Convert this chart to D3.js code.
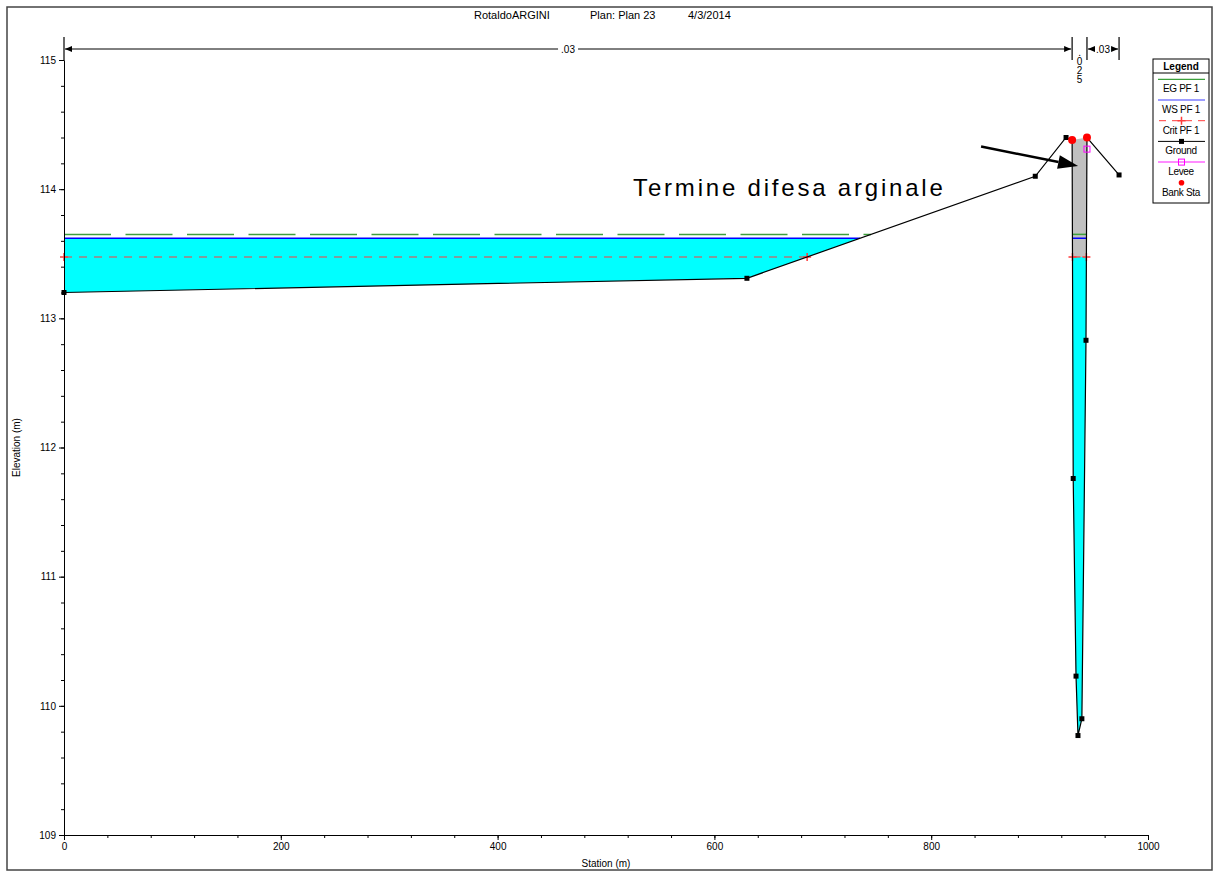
<!DOCTYPE html>
<head>
    <meta charset="utf-8">
    <title>RotaldoARGINI cross section</title>
    <style>
        body { margin: 0; background: #fff; }
        svg text { font-family: "Liberation Sans", Arial, sans-serif; }
    </style>
</head>
<body>

<script src="https://cdn.jsdelivr.net/npm/d3@7"></script>

<script>

    // cross section ground
    var groundSta  = [0, 630, 896, 924.4, 930, 931, 933.6, 935.4, 939, 942.8, 943.7, 973.3];
    var groundElev = [113.20, 113.31, 114.10, 114.40, 114.38, 111.76, 110.23, 109.77, 109.90, 112.83, 114.40, 114.11];

    // profile results
    var egElev = 113.65, wsElev = 113.62, critElev = 113.475;

    var bankSta  = [930, 943.7];
    var bankElev = [114.38, 114.40];
    var leveeSta  = [943.7];
    var leveeElev = [114.31];

    // manning's n
    var nSta = [0, 930, 943.7, 973.3];
    var nVal = [".03", ".025", ".03"];

    var xTicks = [0, 200, 400, 600, 800, 1000];
    var yTicks = [109, 110, 111, 112, 113, 114, 115];

    var legendNames = ["EG PF 1", "WS PF 1", "Crit PF 1", "Ground", "Levee", "Bank Sta"];

    var W = 1219, H = 876;
    var margin = {top: 60, right: 71, bottom: 41, left: 64};

    var x = d3.scaleLinear().domain([0, 1000]).range([margin.left, W - margin.right]);
    var y = d3.scaleLinear().domain([109, 115]).range([H - margin.bottom, margin.top]);

    var svg = d3.select('body').append('svg')
        .attr('width', W)
        .attr('height', H);

    svg.append('rect')
        .attr('x', 7).attr('y', 7)
        .attr('width', W - 14).attr('height', H - 13)
        .attr('fill', 'none').attr('stroke', '#444').attr('stroke-width', 1.5);

    // title
    var title = svg.append('g').attr('font-size', '11px');
    title.append('text').attr('x', 474).attr('y', 19).text('RotaldoARGINI');
    title.append('text').attr('x', 590).attr('y', 19).text('Plan: Plan 23');
    title.append('text').attr('x', 688).attr('y', 19).text('4/3/2014');

    var ground = groundSta.map(function(s, i) { return [s, groundElev[i]]; });

    function groundAt(s) {
        for (var i = 0; i < ground.length - 1; i++) {
            var a = ground[i], b = ground[i + 1];
            if (s >= a[0] && s <= b[0]) return a[1] + (b[1] - a[1]) * (s - a[0]) / (b[0] - a[0]);
        }
        return ground[ground.length - 1][1];
    }

    // stretches where ground is below a level
    function wetParts(level) {
        var parts = [], start = ground[0][1] < level ? ground[0][0] : null;
        for (var i = 0; i < ground.length - 1; i++) {
            var a = ground[i], b = ground[i + 1];
            if ((a[1] - level) * (b[1] - level) < 0) {
                var s = a[0] + (level - a[1]) * (b[0] - a[0]) / (b[1] - a[1]);
                if (start === null) start = s;
                else { parts.push([start, s]); start = null; }
            }
        }
        if (start !== null) parts.push([start, ground[ground.length - 1][0]]);
        return parts;
    }

    var line = d3.line().x(function(d) { return x(d[0]); }).y(function(d) { return y(d[1]); });

    // water fill
    wetParts(wsElev).forEach(function(p) {
        var pts = [[p[0], wsElev], [p[1], wsElev], [p[1], groundAt(p[1])]];
        ground.filter(function(g) { return g[0] > p[0] && g[0] < p[1]; })
            .reverse().forEach(function(g) { pts.push(g); });
        pts.push([p[0], groundAt(p[0])]);
        svg.append('path').attr('d', line(pts) + 'Z').attr('fill', '#00ffff');
    });

    // blocked area above crit in channel
    svg.append('path')
        .attr('d', line([[bankSta[0], bankElev[0]], [bankSta[1], bankElev[1]],
                         [bankSta[1], critElev], [bankSta[0], critElev]]) + 'Z')
        .attr('fill', '#c0c0c0');

    // EG
    wetParts(egElev).forEach(function(p) {
        svg.append('path').attr('d', line([[p[0], egElev], [p[1], egElev]]))
            .attr('stroke', '#3ca03c').attr('stroke-width', 1.5)
            .attr('stroke-dasharray', p[1] - p[0] > 50 ? '47,14.5' : null);
    });

    // WS
    wetParts(wsElev).forEach(function(p) {
        svg.append('path').attr('d', line([[p[0], wsElev], [p[1], wsElev]]))
            .attr('stroke', '#0000ff').attr('stroke-width', 1.5);
    });

    // Crit
    function plus(g, px, py, c) {
        g.append('path')
            .attr('d', 'M' + (px - 4) + ',' + py + 'H' + (px + 4) + 'M' + px + ',' + (py - 4) + 'V' + (py + 4))
            .attr('stroke', c).attr('stroke-width', 1.5);
    }
    wetParts(critElev).forEach(function(p) {
        svg.append('path').attr('d', line([[p[0], critElev], [p[1], critElev]]))
            .attr('stroke', '#ff3c3c').attr('stroke-width', 1.2)
            .attr('stroke-dasharray', '8,7');
        plus(svg, x(p[0]), y(critElev), '#ff3c3c');
        plus(svg, x(p[1]), y(critElev), '#ff3c3c');
    });

    // ground
    svg.append('path').attr('d', line(ground))
        .attr('fill', 'none').attr('stroke', '#000').attr('stroke-width', 1.2);
    svg.selectAll('.gpt').data(ground).enter().append('rect')
        .attr('class', 'gpt')
        .attr('x', function(d) { return x(d[0]) - 2.5; })
        .attr('y', function(d) { return y(d[1]) - 2.5; })
        .attr('width', 5).attr('height', 5).attr('fill', '#000');

    // levee
    leveeSta.forEach(function(s, i) {
        svg.append('rect')
            .attr('x', x(s) - 3).attr('y', y(leveeElev[i]) - 3)
            .attr('width', 6).attr('height', 6)
            .attr('fill', 'none').attr('stroke', '#ff00ff').attr('stroke-width', 1);
    });

    // bank stations
    bankSta.forEach(function(s, i) {
        svg.append('circle').attr('cx', x(s)).attr('cy', y(bankElev[i])).attr('r', 4).attr('fill', '#ff0000');
    });

    // axes
    var yAxisG = svg.append('g').attr('transform', 'translate(' + margin.left + ',0)');
    yAxisG.call(d3.axisLeft(y).tickValues(d3.range(109, 115.01, 0.2)).tickSize(3).tickFormat(''));
    yAxisG.append('g').call(d3.axisLeft(y).tickValues(yTicks).tickSize(5).tickFormat(d3.format('d')))
        .select('.domain').remove();

    var xAxisG = svg.append('g').attr('transform', 'translate(0,' + (H - margin.bottom) + ')');
    xAxisG.call(d3.axisBottom(x).tickValues(d3.range(0, 1000.1, 40)).tickSize(3).tickFormat(''));
    xAxisG.append('g').call(d3.axisBottom(x).tickValues(xTicks).tickSize(5).tickFormat(d3.format('d')))
        .select('.domain').remove();

    svg.selectAll('.tick text')
        .attr('font-family', '"Liberation Sans", Arial, sans-serif')
        .attr('font-size', '10px').attr('fill', '#000');
    svg.selectAll('.domain, .tick line').attr('stroke', '#000');

    svg.append('text')
        .attr('transform', 'translate(20,' + y(112) + ') rotate(-90)')
        .attr('text-anchor', 'middle').attr('font-size', '10px')
        .text('Elevation (m)');

    svg.append('text')
        .attr('x', x(500)).attr('y', 867)
        .attr('text-anchor', 'middle').attr('font-size', '10px')
        .text('Station (m)');

    // manning's n strip
    var nY = 49;
    var nRow = svg.append('g');
    nSta.forEach(function(s) {
        nRow.append('line').attr('x1', x(s)).attr('x2', x(s)).attr('y1', 37).attr('y2', 60)
            .attr('stroke', '#000').attr('stroke-width', 1.2);
    });
    function arrowHead(px, dir) {
        nRow.append('path')
            .attr('d', 'M' + px + ',' + nY + 'L' + (px - dir * 7) + ',' + (nY - 3) + 'L' + (px - dir * 7) + ',' + (nY + 3) + 'Z')
            .attr('fill', '#000');
    }
    nVal.forEach(function(v, i) {
        var a = x(nSta[i]), b = x(nSta[i + 1]), m = (a + b) / 2;
        if (b - a > 25) {
            var gap = b - a > 100 ? 10 : 9;
            nRow.append('line').attr('x1', a + 1).attr('x2', m - gap).attr('y1', nY).attr('y2', nY).attr('stroke', '#000');
            nRow.append('line').attr('x1', m + gap).attr('x2', b - 1).attr('y1', nY).attr('y2', nY).attr('stroke', '#000');
            arrowHead(a + 1, -1);
            arrowHead(b - 1, 1);
            nRow.append('text').attr('x', m).attr('y', nY + 3.5)
                .attr('text-anchor', 'middle').attr('font-size', '10px').text(v);
        } else {
            v.split('').forEach(function(c, k) {
                nRow.append('text').attr('x', m).attr('y', 56 + k * 9)
                    .attr('text-anchor', 'middle').attr('font-size', '10px').text(c);
            });
        }
    });

    // annotation
    svg.append('text')
        .attr('x', x(525)).attr('y', y(113.95))
        .attr('font-size', '24px').attr('letter-spacing', '2.8px')
        .text('Termine difesa arginale');
    var a0 = [x(846), y(114.33)], a1 = [x(935.5), y(114.18)];
    var ang = Math.atan2(a1[1] - a0[1], a1[0] - a0[0]);
    var hl = 20, hw = 7;
    var base = [a1[0] - hl * Math.cos(ang), a1[1] - hl * Math.sin(ang)];
    svg.append('line')
        .attr('x1', a0[0]).attr('y1', a0[1]).attr('x2', base[0]).attr('y2', base[1])
        .attr('stroke', '#000').attr('stroke-width', 2.5);
    svg.append('path')
        .attr('d', 'M' + a1[0] + ',' + a1[1] +
            'L' + (base[0] + hw * Math.sin(ang)) + ',' + (base[1] - hw * Math.cos(ang)) +
            'L' + (base[0] - hw * Math.sin(ang)) + ',' + (base[1] + hw * Math.cos(ang)) + 'Z')
        .attr('fill', '#000');

    // legend
    var legend = svg.append('g').attr('transform', 'translate(1153,59)');
    legend.append('rect').attr('width', 56).attr('height', 144)
        .attr('fill', '#fff').attr('stroke', '#000').attr('stroke-width', 1);
    legend.append('text').attr('x', 28).attr('y', 10.5).attr('text-anchor', 'middle')
        .attr('font-size', '10px').attr('font-weight', 'bold').text('Legend');
    legend.append('line').attr('x1', 0).attr('x2', 56).attr('y1', 14).attr('y2', 14).attr('stroke', '#000');

    legendNames.forEach(function(name, i) {
        var ly = 20.3 + i * 20.7;
        var row = legend.append('g');
        if (i === 0) row.append('line').attr('x1', 5).attr('x2', 52).attr('y1', ly).attr('y2', ly).attr('stroke', '#3ca03c').attr('stroke-width', 1.2);
        if (i === 1) row.append('line').attr('x1', 5).attr('x2', 52).attr('y1', ly).attr('y2', ly).attr('stroke', '#3c3cff').attr('stroke-width', 1.2);
        if (i === 2) {
            row.append('line').attr('x1', 5).attr('x2', 52).attr('y1', ly).attr('y2', ly)
                .attr('stroke', '#ff3c3c').attr('stroke-dasharray', '7,6').attr('stroke-dashoffset', -1);
            plus(row, 28.5, ly, '#ff3c3c');
        }
        if (i === 3) {
            row.append('line').attr('x1', 5).attr('x2', 52).attr('y1', ly).attr('y2', ly).attr('stroke', '#000');
            row.append('rect').attr('x', 26).attr('y', ly - 2.5).attr('width', 5).attr('height', 5).attr('fill', '#000');
        }
        if (i === 4) {
            row.append('line').attr('x1', 5).attr('x2', 52).attr('y1', ly).attr('y2', ly).attr('stroke', '#ff66ff').attr('stroke-width', 1.5);
            row.append('rect').attr('x', 25.5).attr('y', ly - 3).attr('width', 6).attr('height', 6)
                .attr('fill', 'none').attr('stroke', '#ff00ff');
        }
        if (i === 5) row.append('circle').attr('cx', 28.5).attr('cy', ly).attr('r', 2.8).attr('fill', '#ff0000');
        row.append('text').attr('x', 28).attr('y', ly + 13).attr('text-anchor', 'middle')
            .attr('font-size', '10px').attr('letter-spacing', '-0.3px').text(name);
    });

</script>

</body>
